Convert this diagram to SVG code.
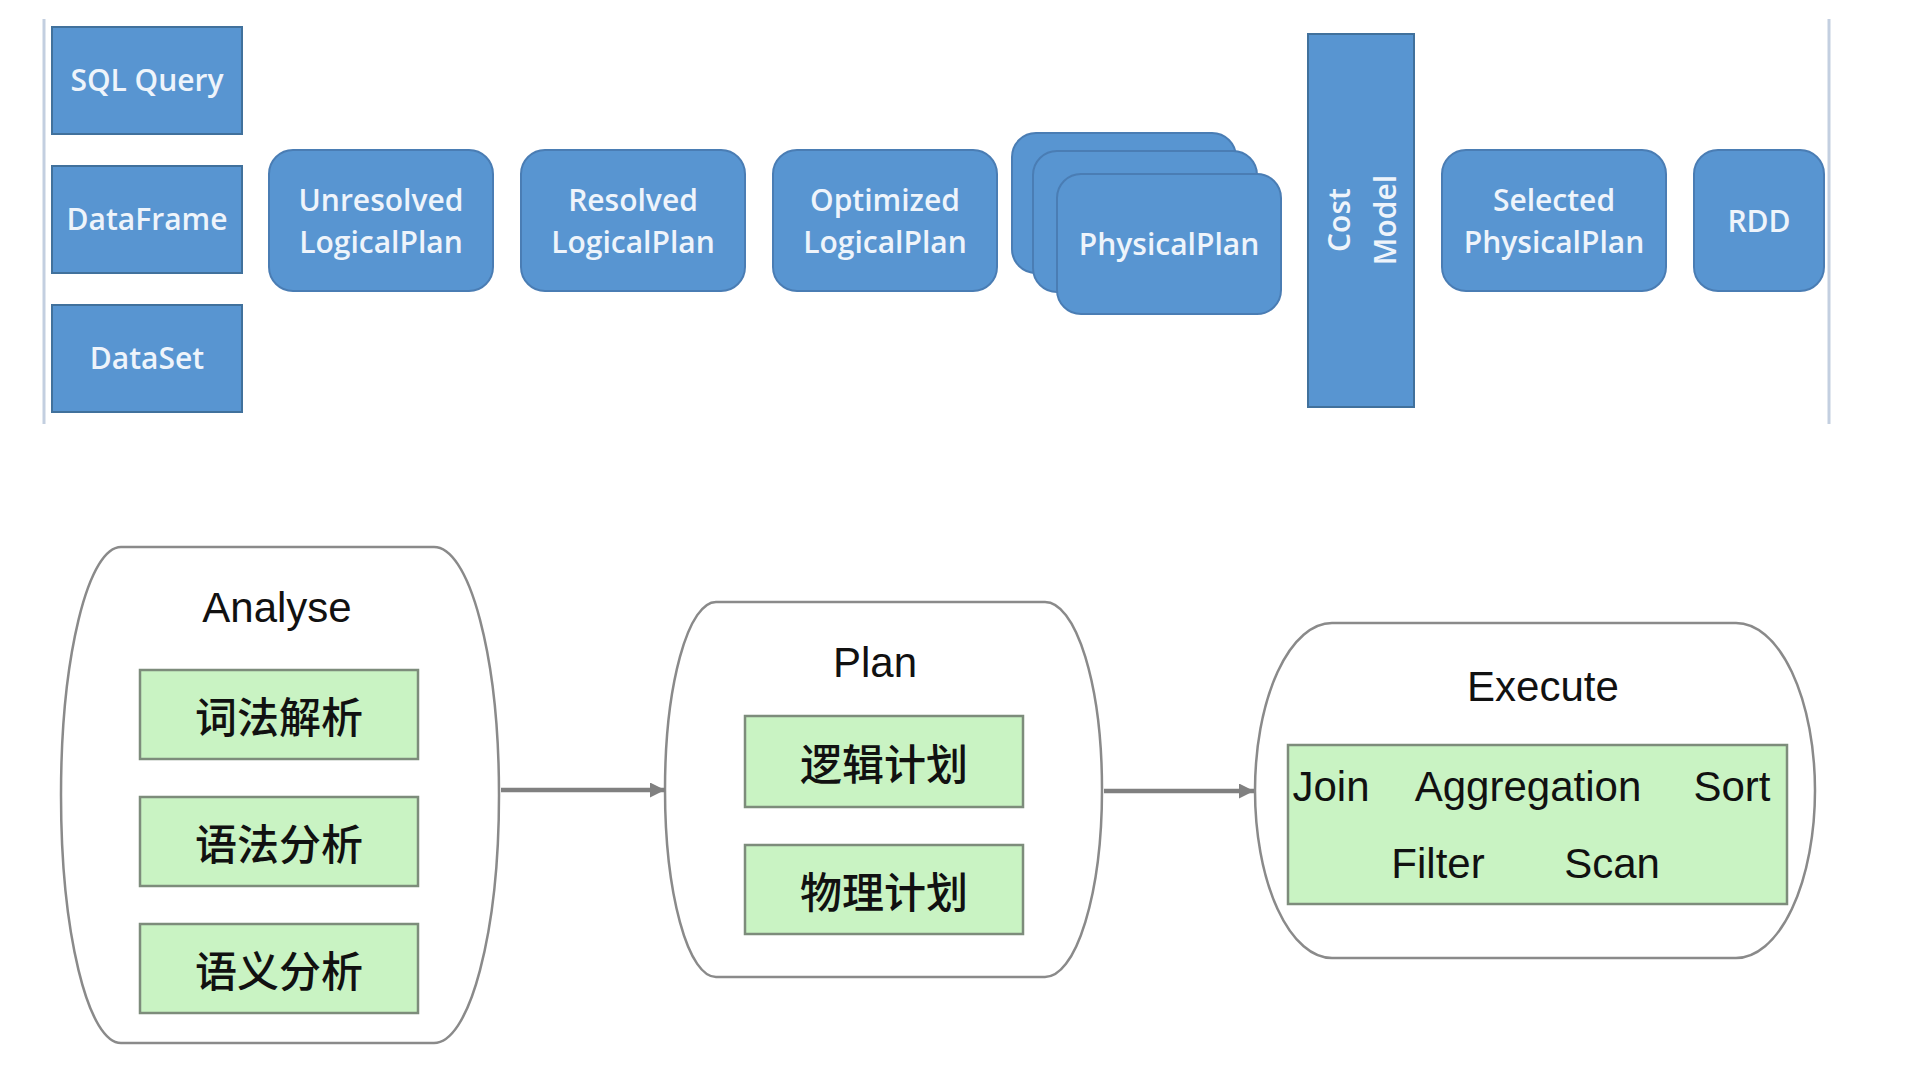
<svg xmlns="http://www.w3.org/2000/svg" width="1928" height="1082" viewBox="0 0 1928 1082">
<defs>
<style>
.blue{fill:#5895d1;stroke:#41719c;stroke-width:2}
.rblue{fill:#5895d1;stroke:#4a7db4;stroke-width:2}
.bt{font-family:"Open Sans","Noto Sans",sans-serif;font-size:30px;font-weight:600;fill:#eef4fb;text-anchor:middle}
.cont{fill:#ffffff;stroke:#8a8a8a;stroke-width:2.5}
.green{fill:#c9f3c3;stroke:#7d8c7b;stroke-width:2.5}
.lt{font-family:"Liberation Sans",Arial,sans-serif;font-size:42px;fill:#111;text-anchor:middle}
.cj{font-family:"Noto Sans CJK SC",sans-serif;font-size:42px;font-weight:500;fill:#111;text-anchor:middle;dominant-baseline:central}
.edge{stroke:#808080;stroke-width:4.5;fill:none}
.rule{stroke:#c3cfe0;stroke-width:3}
</style>
<marker id="arr" viewBox="0 0 15 15" refX="15" refY="7.5" markerWidth="15" markerHeight="15" markerUnits="userSpaceOnUse" orient="auto">
<path d="M0,0 L15,7.5 L0,15 z" fill="#808080"/>
</marker>
</defs>
<rect width="1928" height="1082" fill="#ffffff"/>
<line class="rule" x1="44" y1="19" x2="44" y2="424"/>
<line class="rule" x1="1829" y1="19" x2="1829" y2="424"/>

<g id="sql-query"><rect class="blue" x="52" y="27" width="190" height="107"/><text class="bt" x="147" y="91">SQL Query</text></g>
<g id="dataframe"><rect class="blue" x="52" y="166" width="190" height="107"/><text class="bt" x="147" y="230">DataFrame</text></g>
<g id="dataset"><rect class="blue" x="52" y="305" width="190" height="107"/><text class="bt" x="147" y="369">DataSet</text></g>

<g id="unresolved"><rect class="rblue" x="269" y="150" width="224" height="141" rx="24"/><text class="bt" x="381" y="211">Unresolved</text><text class="bt" x="381" y="253">LogicalPlan</text></g>
<g id="resolved"><rect class="rblue" x="521" y="150" width="224" height="141" rx="24"/><text class="bt" x="633" y="211">Resolved</text><text class="bt" x="633" y="253">LogicalPlan</text></g>
<g id="optimized"><rect class="rblue" x="773" y="150" width="224" height="141" rx="24"/><text class="bt" x="885" y="211">Optimized</text><text class="bt" x="885" y="253">LogicalPlan</text></g>
<g id="physical-plan">
<rect class="rblue" x="1012" y="133" width="224" height="140" rx="24"/>
<rect class="rblue" x="1033" y="151" width="224" height="141" rx="24"/>
<rect class="rblue" x="1057" y="174" width="224" height="140" rx="24"/>
<text class="bt" x="1169" y="255">PhysicalPlan</text>
</g>
<g id="cost-model"><rect class="blue" x="1308" y="34" width="106" height="373"/>
<text class="bt" transform="translate(1350,220) rotate(-90)">Cost</text>
<text class="bt" transform="translate(1396,220) rotate(-90)">Model</text></g>
<g id="selected"><rect class="rblue" x="1442" y="150" width="224" height="141" rx="24"/><text class="bt" x="1554" y="211">Selected</text><text class="bt" x="1554" y="253">PhysicalPlan</text></g>
<g id="rdd"><rect class="rblue" x="1694" y="150" width="130" height="141" rx="24"/><text class="bt" x="1759" y="232">RDD</text></g>

<g id="analyse">
<path class="cont" d="M121,547 H434 A65,248 0 0 1 434,1043 H121 A60,248 0 0 1 121,547 Z"/>
<text class="lt" x="277" y="622">Analyse</text>
<rect class="green" x="140" y="670" width="278" height="89"/><text class="cj" x="279" y="714">词法解析</text>
<rect class="green" x="140" y="797" width="278" height="89"/><text class="cj" x="279" y="841">语法分析</text>
<rect class="green" x="140" y="924" width="278" height="89"/><text class="cj" x="279" y="968">语义分析</text>
</g>
<g id="plan">
<path class="cont" d="M716,602 H1045 A57,187.5 0 0 1 1045,977 H716 A51,187.5 0 0 1 716,602 Z"/>
<text class="lt" x="875" y="677">Plan</text>
<rect class="green" x="745" y="716" width="278" height="91"/><text class="cj" x="884" y="761">逻辑计划</text>
<rect class="green" x="745" y="845" width="278" height="89"/><text class="cj" x="884" y="889">物理计划</text>
</g>
<g id="execute">
<path class="cont" d="M1332,623 H1736 A79,167.5 0 0 1 1736,958 H1332 A77,167.5 0 0 1 1332,623 Z"/>
<text class="lt" x="1543" y="701">Execute</text>
<rect class="green" x="1288" y="745" width="499" height="159"/>
<text class="lt" x="1331" y="801">Join</text>
<text class="lt" x="1528" y="801">Aggregation</text>
<text class="lt" x="1732" y="801">Sort</text>
<text class="lt" x="1438" y="878">Filter</text>
<text class="lt" x="1612" y="878">Scan</text>
</g>

<g id="connectors">
<line class="edge" x1="501" y1="790" x2="665" y2="790" marker-end="url(#arr)"/>
<line class="edge" x1="1104" y1="791" x2="1254" y2="791" marker-end="url(#arr)"/>
</g>
</svg>
